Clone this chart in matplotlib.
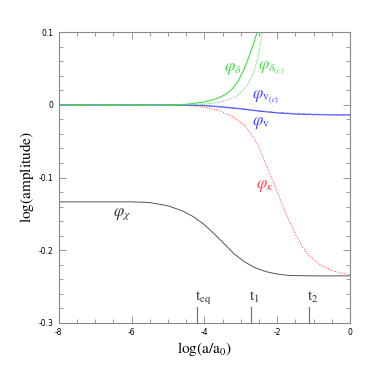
import numpy as np
import matplotlib.pyplot as plt
from matplotlib.ticker import MultipleLocator

plt.rcParams['mathtext.fontset'] = 'stix'

# phi_chi (black)
chi_x = [-8, -6, -5.5, -5.0, -4.6, -4.3, -4.0, -3.7, -3.4, -3.2, -2.9, -2.6, -2.3, -2.0, -1.65, -1.0, 0]
chi_y = [-0.1335, -0.1335, -0.1345, -0.139, -0.146, -0.154, -0.165, -0.179, -0.194, -0.2044,
         -0.216, -0.2245, -0.2297, -0.233, -0.235, -0.2355, -0.2355]

# phi_kappa (red dotted)
kap_x = [-8, -5, -4.5, -4.0, -3.6, -3.2, -2.9, -2.7, -2.5, -2.3, -2.1, -1.9, -1.74, -1.5, -1.3,
         -1.1, -0.8, -0.5, -0.2, 0]
kap_y = [0, 0, -0.0005, -0.003, -0.008, -0.017, -0.028, -0.041, -0.058, -0.083, -0.107, -0.132,
         -0.152, -0.178, -0.196, -0.209, -0.221, -0.228, -0.232, -0.234]

# phi_delta (green solid) and phi_delta(c) (green dotted)
del_x = [-8, -5, -4.5, -4.0, -3.7, -3.45, -3.25, -3.08, -2.93, -2.8, -2.68, -2.55, -2.5]
del_y = [0, 0, 0.0008, 0.004, 0.008, 0.0135, 0.021, 0.032, 0.047, 0.063, 0.080, 0.1, 0.108]
delc_x = [-8, -4.5, -4.0, -3.66, -3.4, -3.11, -2.9, -2.74, -2.62, -2.54, -2.47, -2.41, -2.38]
delc_y = [0, 0, 0.001, 0.003, 0.006, 0.012, 0.022, 0.034, 0.049, 0.063, 0.081, 0.1, 0.11]

# phi_v (blue solid) and phi_v(c) (blue dashed)
v_x = [-8, -5, -4.5, -4.0, -3.5, -3.0, -2.5, -2.0, -1.5, -1.0, -0.5, 0]
v_y = [0, 0, -0.0003, -0.001, -0.003, -0.0055, -0.0085, -0.011, -0.0125, -0.0133, -0.0137, -0.0139]
vc_y = [0, 0, -0.0002, -0.0008, -0.0025, -0.005, -0.008, -0.0105, -0.012, -0.0129, -0.0134, -0.0136]

# time markers
t_names = [r'$\mathrm{t}_{\mathrm{eq}}$', r'$\mathrm{t}_{1}$', r'$\mathrm{t}_{2}$']
t_pos = [-4.21, -2.71, -1.12]

fig = plt.figure(figsize=(3.82, 3.82), dpi=100)
ax = fig.add_axes([0.1537, 0.1552, 0.7625, 0.7602])

ax.plot(chi_x, chi_y, color='#555555', lw=0.7)
ax.plot(kap_x, kap_y, color='#ff4444', lw=0.7, ls=(0, (1, 1.5)))
ax.plot(v_x, v_y, color='#4444ff', lw=0.8)
ax.plot(v_x, vc_y, color='#7777ff', lw=0.8, ls=(0, (3, 2)))
ax.plot(delc_x, delc_y, color='#44dd44', lw=0.7, ls=(0, (1, 1.2)))
ax.plot(del_x, del_y, color='#44dd44', lw=0.8)

lab = dict(fontsize=12, va='center', ha='left')
ax.text(-3.45, 0.051, r'$\varphi_{\delta}$', color='#44dd44', **lab)
ax.text(-2.52, 0.051, r'$\varphi_{\delta_{(c)}}$', color='#44dd44', **lab)
ax.text(-2.70, 0.011, r'$\varphi_{\mathrm{v}_{(c)}}$', color='#4444ff', **lab)
ax.text(-2.70, -0.023, r'$\varphi_{\mathrm{v}}$', color='#4444ff', **lab)
ax.text(-2.58, -0.110, r'$\varphi_{\kappa}$', color='#ff4444', **lab)
ax.text(-6.5, -0.149, r'$\varphi_{\chi}$', color='#333333', **lab)

for name, xp in zip(t_names, t_pos):
    ax.plot([xp, xp], [-0.3, -0.278], color='#777777', lw=0.9)
    ax.text(xp - 0.05, -0.265, name, fontsize=11, ha='left', va='center', color='#333333')

ax.set_xlim(-8, 0)
ax.set_ylim(-0.3, 0.1)
ax.xaxis.set_minor_locator(MultipleLocator(0.5))
ax.yaxis.set_minor_locator(MultipleLocator(0.02))
ax.set_xticks([-8, -6, -4, -2, 0])
ax.set_xticklabels(['-8', '-6', '-4', '-2', '0'])
ax.set_yticks([-0.3, -0.2, -0.1, 0, 0.1])
ax.set_yticklabels(['-0.3', '-0.2', '-0.1', '0', '0.1'])
ax.tick_params(which='both', direction='in', top=True, right=True, color='#888888',
               labelsize=5.5, width=0.6)
ax.tick_params(which='major', length=5, pad=4)
ax.tick_params(which='minor', length=3)
for s in ax.spines.values():
    s.set_color('#888888')
    s.set_linewidth(0.8)

ax.set_xlabel(r'$\mathrm{log(a/a_0)}$', fontsize=11, labelpad=2)
ax.set_ylabel(r'$\mathrm{log(amplitude)}$', fontsize=11, labelpad=2)

fig.savefig('out.png', dpi=100)
